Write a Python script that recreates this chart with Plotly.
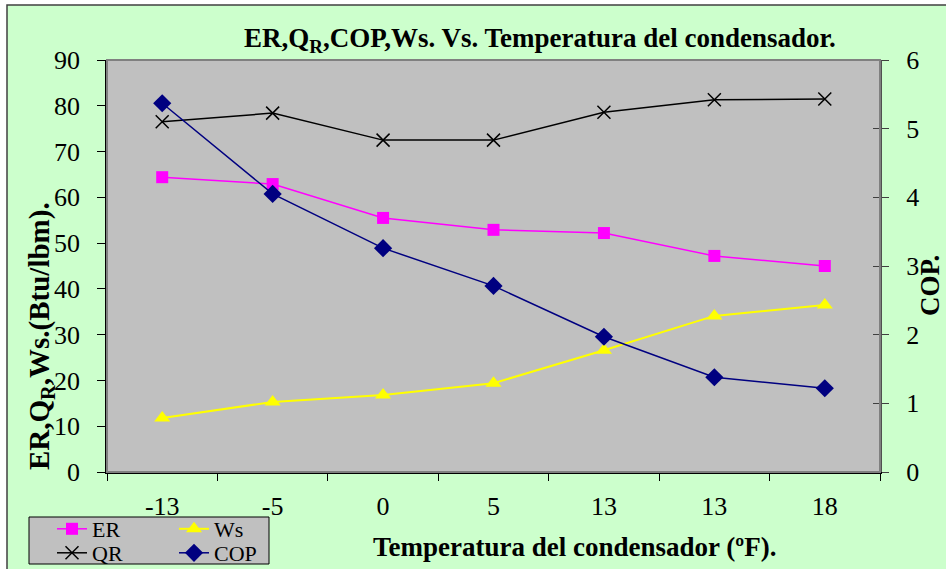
import plotly.graph_objects as go

categories = ["-13", "-5", "0", "5", "13", "13", "18"]
er = [64.4, 62.9, 55.5, 52.9, 52.2, 47.2, 45.0]
qr = [76.5, 78.4, 72.5, 72.5, 78.6, 81.3, 81.5]
ws = [11.8, 15.3, 16.8, 19.4, 26.6, 34.1, 36.5]
cop = [5.37, 4.05, 3.26, 2.71, 1.97, 1.38, 1.22]

xpos = list(range(len(categories)))
FONT = "Liberation Serif, Times New Roman, serif"

# pixel geometry helpers
L, R, T, B = 107, 880, 60, 472
W, H = R - L, B - T
def px(x):
    return (x - L) / W
def py(y):
    return (B - y) / H

fig = go.Figure()
fig.add_trace(go.Scatter(x=xpos, y=er, name="ER", mode="lines+markers",
                         line=dict(color="#FF00FF", width=1.5),
                         marker=dict(symbol="square", size=12, color="#FF00FF"),
                         legend="legend"))
fig.add_trace(go.Scatter(x=xpos, y=qr, name="QR", mode="lines+markers",
                         line=dict(color="#000000", width=1.5),
                         marker=dict(symbol="x-thin", size=13, color="#000000",
                                     line=dict(color="#000000", width=1.5)),
                         legend="legend3"))
fig.add_trace(go.Scatter(x=xpos, y=ws, name="Ws", mode="lines+markers",
                         line=dict(color="#FFFF00", width=2),
                         marker=dict(symbol="triangle-up", size=14, color="#FFFF00"),
                         legend="legend2"))
fig.add_trace(go.Scatter(x=xpos, y=cop, name="COP", mode="lines+markers",
                         line=dict(color="#000080", width=1.5),
                         marker=dict(symbol="diamond", size=14, color="#000080"),
                         yaxis="y2", legend="legend4"))

shapes = [
    # plot area border
    dict(type="rect", xref="paper", yref="paper", x0=0, x1=1, y0=0, y1=1,
         line=dict(color="#808080", width=2), layer="above"),
    # white strips outside chart border
    dict(type="rect", xref="paper", yref="paper", x0=px(-20), x1=px(7), y0=py(600), y1=py(-20),
         fillcolor="white", line=dict(width=0), layer="above"),
    dict(type="rect", xref="paper", yref="paper", x0=px(-20), x1=px(960), y0=py(5), y1=py(-20),
         fillcolor="white", line=dict(width=0), layer="above"),
    # chart border
    dict(type="rect", xref="paper", yref="paper", x0=px(7), x1=px(960), y0=py(600), y1=py(5),
         line=dict(color="#404040", width=1.5), layer="above"),
    # legend box
    dict(type="rect", xref="paper", yref="paper", x0=px(29), x1=px(269), y0=py(564), y1=py(517),
         fillcolor="#C0C0C0", line=dict(color="#000000", width=1), layer="above"),
]

annotations = [
    dict(text="<b>ER,Q<sub>R</sub>,COP,Ws. Vs. Temperatura del condensador.</b>",
         xref="paper", yref="paper", x=px(540), y=py(40), xanchor="center", yanchor="middle",
         showarrow=False, font=dict(family=FONT, size=27, color="black")),
    dict(text="<b>Temperatura del condensador (ºF).</b>",
         xref="paper", yref="paper", x=px(574), y=py(547), xanchor="center", yanchor="middle",
         showarrow=False, font=dict(family=FONT, size=27, color="black")),
    dict(text="<b>ER,Q<sub>R</sub>,Ws.(Btu/lbm).</b>", textangle=-90,
         xref="paper", yref="paper", x=px(41), y=py(336), xanchor="center", yanchor="middle",
         showarrow=False, font=dict(family=FONT, size=29, color="black")),
    dict(text="<b>COP.</b>", textangle=-90,
         xref="paper", yref="paper", x=px(930), y=py(286), xanchor="center", yanchor="middle",
         showarrow=False, font=dict(family=FONT, size=27, color="black")),
]

def leg(xp, yp):
    return dict(x=px(xp), y=py(yp), xanchor="left", yanchor="middle",
                bgcolor="rgba(0,0,0,0)", borderwidth=0, tracegroupgap=0,
                font=dict(family=FONT, size=22), itemwidth=30)

fig.update_layout(
    width=946, height=569,
    margin=dict(l=L, r=946 - R, t=T, b=569 - B, autoexpand=False),
    paper_bgcolor="#CCFFCC",
    plot_bgcolor="#C0C0C0",
    font=dict(family=FONT, size=24, color="black"),
    showlegend=True,
    xaxis=dict(range=[-0.5, 6.5], tickvals=xpos, ticktext=categories, ticks="",
               showgrid=False, zeroline=False, showline=True, linecolor="black", linewidth=2,
               minor=dict(tick0=-0.5, dtick=1, ticks="outside", ticklen=7, tickcolor="black",
                          tickwidth=1, showgrid=False),
               tickfont=dict(family=FONT, size=26), ticklabelstandoff=10),
    yaxis=dict(range=[0, 90], dtick=10, ticks="outside", ticklen=8, tickcolor="black",
               showgrid=False, zeroline=False, showline=True, linecolor="black", linewidth=1.5,
               tickfont=dict(family=FONT, size=26), ticklabelstandoff=12),
    yaxis2=dict(range=[0, 6], dtick=1, ticks="outside", ticklen=7, tickcolor="#404040",
                overlaying="y", side="right", showgrid=False, zeroline=False,
                showline=True, linecolor="#505050", linewidth=2,
                tickfont=dict(family=FONT, size=26), ticklabelstandoff=12),
    yaxis3=dict(range=[0, 6], dtick=1, ticks="inside", ticklen=7, tickcolor="#404040",
                overlaying="y", side="right", showgrid=False, zeroline=False,
                showticklabels=False, showline=False),
    legend=leg(52, 529),
    legend2=leg(174, 529),
    legend3=leg(52, 553),
    legend4=leg(174, 553),
    shapes=shapes,
    annotations=annotations,
)
# dummy trace to activate yaxis3
fig.add_trace(go.Scatter(x=[None], y=[None], yaxis="y3", showlegend=False, hoverinfo="skip"))

fig.write_html("out.html")
